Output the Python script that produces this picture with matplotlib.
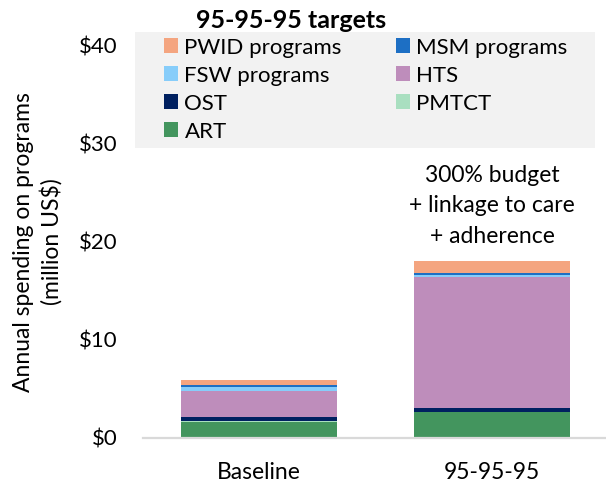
import numpy as np
import matplotlib.pyplot as plt
from matplotlib.patches import Patch, Rectangle

plt.rcParams['font.family'] = ['Lato', 'DejaVu Sans']

scenarios = ['Baseline', '95-95-95']
# stacked from bottom to top
programs = ['ART', 'PMTCT', 'OST', 'HTS', 'FSW programs', 'MSM programs', 'PWID programs']
art = [1.65, 2.65]
pmtct = [0.05, 0.05]
ost = [0.42, 0.38]
hts = [2.72, 13.3]
fsw = [0.40, 0.30]
msm = [0.13, 0.17]
pwid = [0.58, 1.18]
yticks = [0, 10, 20, 30, 40]
ytick_labels = ['$0', '$10', '$20', '$30', '$40']

colors = {
    'ART': '#43955e', 'PMTCT': '#a9dfc0', 'OST': '#002060', 'HTS': '#be8dbb',
    'FSW programs': '#87cdfa', 'MSM programs': '#1d6fc4', 'PWID programs': '#f4a580',
}
series = [art, pmtct, ost, hts, fsw, msm, pwid]

W, H = 606, 484
fig = plt.figure(figsize=(W / 100, H / 100), dpi=100)
ax = fig.add_axes([142.5 / W, 1 - 438 / H, 466 / W, 392 / H])
ax.patch.set_alpha(0)

x = np.arange(len(scenarios))
bottom = np.zeros(len(scenarios))
for name, vals in zip(programs, series):
    ax.bar(x, vals, 0.67, bottom=bottom, color=colors[name], linewidth=0, zorder=2)
    bottom += np.array(vals)

ax.set_xlim(-0.5, 1.5)
ax.set_ylim(0, 40)
ax.set_yticks(yticks)
ax.set_yticklabels(ytick_labels, fontsize=16)
ax.set_xticks(x)
ax.set_xticklabels(scenarios, fontsize=16.5)
ax.tick_params(axis='both', length=0)
ax.tick_params(axis='x', pad=17)
ax.tick_params(axis='y', pad=18)
for s in ['top', 'right', 'left']:
    ax.spines[s].set_visible(False)
ax.spines['bottom'].set_color('#d9d9d9')
ax.spines['bottom'].set_linewidth(1.6)

ax.set_ylabel('Annual spending on programs\n(million US$)', fontsize=16.5, labelpad=12,
              linespacing=1.3)

ax.text(1, 23.7, '300% budget\n+ linkage to care\n+ adherence', ha='center', va='center',
        fontsize=16.5, linespacing=1.55)

fig.text(291 / W, 1 - 21 / H, '95-95-95 targets', ha='center', va='center',
         fontsize=18, fontweight='bold')

# legend background box
fig.patches.append(Rectangle((135 / W, 1 - 148 / H), 460 / W, 116 / H,
                             transform=fig.transFigure, facecolor='#f2f2f2',
                             edgecolor='none', zorder=1))

col1 = ['PWID programs', 'FSW programs', 'OST', 'ART']
col2 = ['MSM programs', 'HTS', 'PMTCT']
for names, xpos in [(col1, 164), (col2, 396)]:
    handles = [Patch(facecolor=colors[n], edgecolor='none') for n in names]
    leg = fig.legend(handles, names, loc='upper left',
                     bbox_to_anchor=(xpos / W, 1 - 37.5 / H), frameon=False,
                     fontsize=16, handlelength=0.62, handleheight=0.62,
                     handletextpad=0.3, labelspacing=0.36, borderpad=0,
                     borderaxespad=0)
    leg.set_zorder(3)

fig.savefig('out.png', dpi=100)
